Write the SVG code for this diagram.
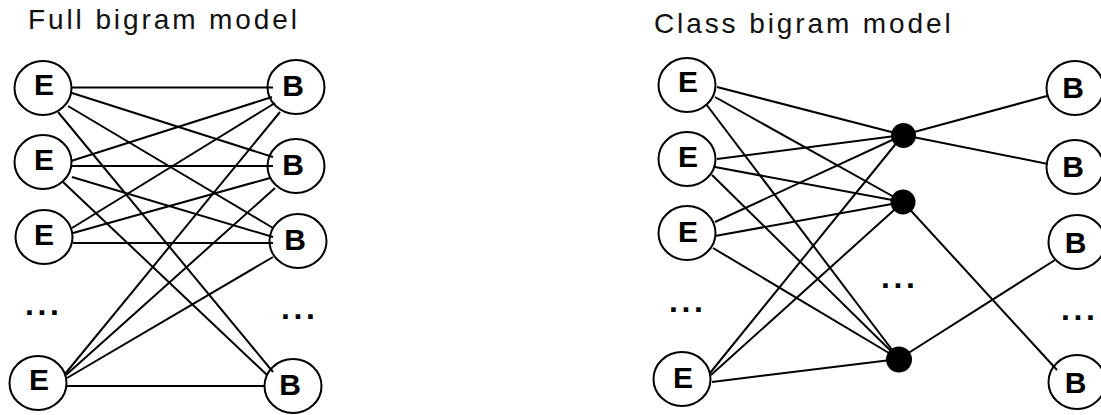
<svg xmlns="http://www.w3.org/2000/svg" width="1101" height="415" viewBox="0 0 1101 415">
  <style>
    .title { font-family: "Liberation Sans", Arial, sans-serif; font-size: 28px; letter-spacing: 2.9px; fill: #111; }
    .word { fill: none; stroke: #000; stroke-width: 2; }
    .cls { fill: #000; stroke: none; }
    .lbl { font-family: "Liberation Sans", Arial, sans-serif; font-size: 30px; font-weight: bold; text-anchor: middle; fill: #000; }
    .more { font-family: "Liberation Sans", Arial, sans-serif; font-size: 32px; font-weight: bold; letter-spacing: 3.6px; fill: #000; }
    .edges line { stroke: #000; stroke-width: 2; }
  </style>
  <rect width="1101" height="415" fill="#fff"/>

  <!-- Titles -->
  <text class="title" x="28" y="29">Full bigram model</text>
  <text class="title" x="654" y="33">Class bigram model</text>

  <!-- Full bigram: every E word links to B words -->
  <g id="full-edges" class="edges">
    <line x1="72" y1="87.5" x2="273" y2="87.5"/>
    <line x1="72" y1="93" x2="273" y2="157"/>
    <line x1="68" y1="106" x2="273" y2="228"/>
    <line x1="58" y1="112" x2="273" y2="372"/>
    <line x1="71" y1="161" x2="272" y2="97"/>
    <line x1="72" y1="166" x2="273" y2="166"/>
    <line x1="72" y1="177" x2="273" y2="237"/>
    <line x1="63" y1="182" x2="267" y2="375"/>
    <line x1="72" y1="228" x2="275" y2="103"/>
    <line x1="73" y1="233" x2="270" y2="178"/>
    <line x1="73" y1="243" x2="273" y2="243"/>
    <line x1="65" y1="374" x2="280" y2="112"/>
    <line x1="66" y1="375" x2="275" y2="188"/>
    <line x1="67" y1="378" x2="273" y2="257"/>
    <line x1="67" y1="386" x2="265" y2="386"/>
  </g>

  <!-- Class bigram: E words to classes, classes to B words -->
  <g id="class-edges" class="edges">
    <line x1="717" y1="87" x2="903" y2="135"/>
    <line x1="715" y1="97" x2="903" y2="202"/>
    <line x1="706" y1="104" x2="899" y2="359"/>
    <line x1="717" y1="159" x2="903" y2="135"/>
    <line x1="715" y1="167" x2="903" y2="202"/>
    <line x1="712" y1="175" x2="899" y2="359"/>
    <line x1="715" y1="222" x2="903" y2="135"/>
    <line x1="715" y1="236" x2="903" y2="202"/>
    <line x1="713" y1="248" x2="899" y2="359"/>
    <line x1="710" y1="373" x2="903" y2="135"/>
    <line x1="711" y1="375" x2="903" y2="202"/>
    <line x1="712" y1="382" x2="899" y2="359"/>
    <line x1="903" y1="135" x2="1047" y2="96"/>
    <line x1="903" y1="135" x2="1048" y2="164"/>
    <line x1="903" y1="202" x2="1057" y2="370"/>
    <line x1="899" y1="359" x2="1055" y2="260"/>
  </g>

  <!-- Full bigram nodes -->
  <g id="full-e1"><ellipse class="word" cx="43" cy="88" rx="28.5" ry="27"/><text class="lbl" x="44" y="95">E</text></g>
  <g id="full-e2"><ellipse class="word" cx="43" cy="162" rx="28.5" ry="27"/><text class="lbl" x="44" y="170">E</text></g>
  <g id="full-e3"><ellipse class="word" cx="44" cy="237" rx="28.5" ry="27"/><text class="lbl" x="44" y="245">E</text></g>
  <g id="full-e4"><ellipse class="word" cx="38" cy="383" rx="28.5" ry="27"/><text class="lbl" x="39" y="390">E</text></g>
  <g id="full-b1"><ellipse class="word" cx="296" cy="87" rx="28.5" ry="27"/><text class="lbl" x="293" y="96">B</text></g>
  <g id="full-b2"><ellipse class="word" cx="296" cy="166" rx="28.5" ry="27"/><text class="lbl" x="293" y="175">B</text></g>
  <g id="full-b3"><ellipse class="word" cx="298" cy="241" rx="28.5" ry="27"/><text class="lbl" x="295" y="250">B</text></g>
  <g id="full-b4"><ellipse class="word" cx="293" cy="386" rx="28.5" ry="27"/><text class="lbl" x="290" y="395">B</text></g>
  <g id="full-e-more"><text class="more" x="25" y="315">...</text></g>
  <g id="full-b-more"><text class="more" x="281" y="319">...</text></g>

  <!-- Class bigram nodes -->
  <g id="class-e1"><ellipse class="word" cx="687" cy="85" rx="28.5" ry="27"/><text class="lbl" x="688" y="92">E</text></g>
  <g id="class-e2"><ellipse class="word" cx="687" cy="159" rx="28.5" ry="27"/><text class="lbl" x="688" y="167">E</text></g>
  <g id="class-e3"><ellipse class="word" cx="687" cy="233" rx="28.5" ry="27"/><text class="lbl" x="688" y="242">E</text></g>
  <g id="class-e4"><ellipse class="word" cx="682" cy="379" rx="28.5" ry="27"/><text class="lbl" x="683" y="388">E</text></g>
  <g id="class-c1"><circle class="cls" cx="903.5" cy="135.5" r="12.5"/></g>
  <g id="class-c2"><circle class="cls" cx="903" cy="202" r="12.5"/></g>
  <g id="class-c3"><circle class="cls" cx="899" cy="359.5" r="13"/></g>
  <g id="class-b1"><ellipse class="word" cx="1075" cy="88" rx="28.5" ry="27"/><text class="lbl" x="1073" y="98">B</text></g>
  <g id="class-b2"><ellipse class="word" cx="1075" cy="167" rx="28.5" ry="27"/><text class="lbl" x="1073" y="177">B</text></g>
  <g id="class-b3"><ellipse class="word" cx="1077" cy="242" rx="28.5" ry="27"/><text class="lbl" x="1075.5" y="253">B</text></g>
  <g id="class-b4"><ellipse class="word" cx="1077" cy="382" rx="28.5" ry="27"/><text class="lbl" x="1075.5" y="393">B</text></g>
  <g id="class-e-more"><text class="more" x="669" y="312">...</text></g>
  <g id="class-c-more"><text class="more" x="881" y="288">...</text></g>
  <g id="class-b-more"><text class="more" x="1061" y="320">...</text></g>
</svg>
